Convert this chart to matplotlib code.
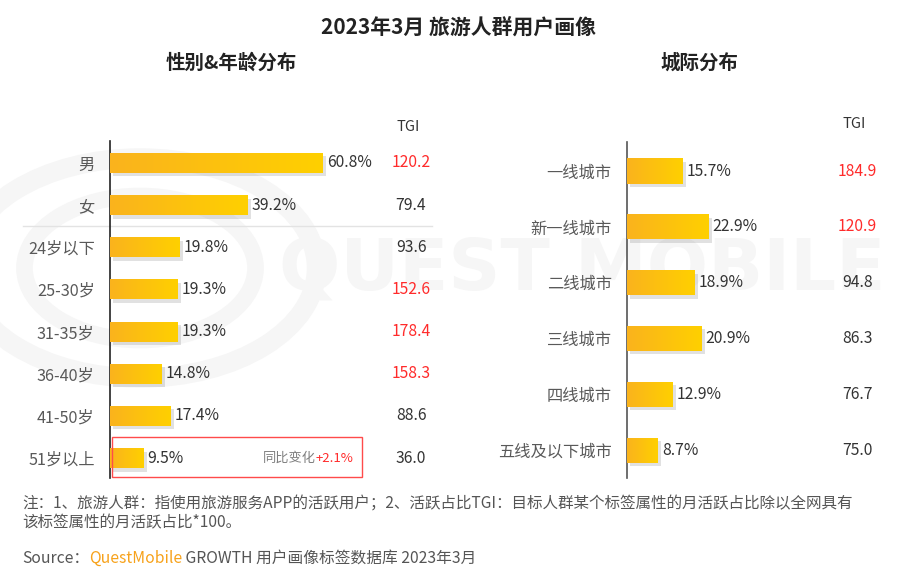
import numpy as np
import matplotlib
matplotlib.use('Agg')
import matplotlib.pyplot as plt
import matplotlib.patheffects as pe
from matplotlib.colors import LinearSegmentedColormap
from matplotlib.patches import Rectangle, Circle

plt.rcParams['font.family'] = ['Noto Sans CJK SC', 'DejaVu Sans']
plt.rcParams['axes.unicode_minus'] = False

# ---- data ----
age_labels = ['男', '女', '24岁以下', '25-30岁', '31-35岁', '36-40岁', '41-50岁', '51岁以上']
age_share = [60.8, 39.2, 19.8, 19.3, 19.3, 14.8, 17.4, 9.5]
age_tgi = [120.2, 79.4, 93.6, 152.6, 178.4, 158.3, 88.6, 36.0]
n_gender = 2

city_labels = ['一线城市', '新一线城市', '二线城市', '三线城市', '四线城市', '五线及以下城市']
city_share = [15.7, 22.9, 18.9, 20.9, 12.9, 8.7]
city_tgi = [184.9, 120.9, 94.8, 86.3, 76.7, 75.0]

yoy_change = '+2.1%'
TGI_RED_LIMIT = 100

COLOR_TEXT = '#333333'
COLOR_LABEL = '#595959'
COLOR_RED = '#FF2B2B'
COLOR_ORANGE = '#F7A21B'
BAR_CMAP = LinearSegmentedColormap.from_list('bar', ['#FAB31D', '#FFD000'])

W, H = 913, 569
fig = plt.figure(figsize=(W / 100, H / 100), dpi=100)


def px_axes(x0, y0, x1, y1):
    """Axes from pixel box (top-left origin)."""
    return fig.add_axes([x0 / W, 1 - y1 / H, (x1 - x0) / W, (y1 - y0) / H])


def draw_bars(ax, labels, values, tgi, height, xmax, ylim, tgi_x, spine_color):
    y = np.arange(len(labels))
    bars = ax.barh(y, values, height=height, color='#F8B21E', zorder=2,
                   path_effects=[pe.SimplePatchShadow(offset=(2.5, -2.5), alpha=0.22,
                                                      shadow_rgbFace='#777777'),
                                 pe.Normal()])
    grad = np.linspace(0, 1, 256).reshape(1, -1)
    for rect in bars:
        x0, y0 = rect.get_x(), rect.get_y()
        w, h = rect.get_width(), rect.get_height()
        im = ax.imshow(grad, cmap=BAR_CMAP, aspect='auto',
                       extent=(x0, x0 + w, y0 + h, y0), zorder=3)
        im.set_clip_path(rect)
        ax.annotate(f'{w:.1f}%', xy=(x0 + w, y0 + h / 2), xytext=(3, 0),
                    textcoords='offset points', ha='left', va='center',
                    fontsize=11.3, color=COLOR_TEXT, zorder=4)
    for yi, t in zip(y, tgi):
        ax.text(tgi_x, yi, f'{t:.1f}', ha='center', va='center', fontsize=11.3,
                color=COLOR_RED if t > TGI_RED_LIMIT else COLOR_TEXT)
    ax.text(tgi_x - 0.8, ylim[1] - 0.33, 'TGI', ha='center', va='center',
            fontsize=10.5, color=COLOR_TEXT)
    ax.set_yticks(y)
    ax.set_yticklabels(labels, fontsize=11.7, color=COLOR_LABEL)
    ax.tick_params(axis='y', length=0, pad=11)
    ax.set_xticks([])
    ax.set_xlim(0, xmax)
    ax.set_ylim(*ylim)
    for s in ['top', 'right', 'bottom']:
        ax.spines[s].set_visible(False)
    ax.spines['left'].set_color(spine_color)
    ax.spines['left'].set_linewidth(1.2)
    ax.set_facecolor('none')
    return bars


# ---- watermark ----
fig.text(582 / W, 1 - 270 / H, 'QUEST MOBILE', fontsize=52, fontweight='bold',
         color='#F6F6F6', ha='center', va='center', family='DejaVu Sans', zorder=-2)
for r, lw in [(110, 14), (72, 12)]:
    fig.patches.append(Circle((140 / W, 1 - 268 / H), r / H, transform=fig.transFigure,
                              fill=False, ec='#F6F6F6', lw=lw, zorder=-2))

# ---- left panel ----
axl = px_axes(110, 141, 460, 478)
draw_bars(axl, age_labels, age_share, age_tgi, 0.475, 100, (7.47, -0.52), 86, '#222222')
sep = n_gender - 0.5
axl.plot([-25, 92], [sep, sep], color='#E3E3E3', lw=1, clip_on=False, zorder=1)
last = len(age_labels) - 1
axl.add_patch(Rectangle((0.6, last - 0.5), 71.4, 0.95, fill=False, ec='#FF4B4B',
                        lw=1, clip_on=False, zorder=5))
t_red = axl.text(69.5, last, yoy_change, ha='right', va='center', fontsize=9.5,
                 color=COLOR_RED)
axl.annotate('同比变化', xy=(0, 0.5), xycoords=t_red, ha='right', va='center',
             fontsize=9.5, color='#7F7F7F')

# ---- right panel ----
axr = px_axes(627, 142, 905, 478)
draw_bars(axr, city_labels, city_share, city_tgi, 0.45, 78.3, (5.5, -0.52), 64.8, '#555555')

# ---- titles ----
fig.text(458 / W, 1 - 27 / H, '2023年3月 旅游人群用户画像', ha='center', va='center',
         fontsize=15, fontweight='bold', color='#222222')
fig.text(231 / W, 1 - 63 / H, '性别&年龄分布', ha='center', va='center',
         fontsize=14, fontweight='bold', color='#222222')
fig.text(699 / W, 1 - 63 / H, '城际分布', ha='center', va='center',
         fontsize=14, fontweight='bold', color='#222222')

# ---- notes & source ----
fig.text(22 / W, 1 - 504 / H,
         '注：1、旅游人群：指使用旅游服务APP的活跃用户；2、活跃占比TGI：目标人群某个标签属性的月活跃占比除以全网具有',
         ha='left', va='center', fontsize=11.2, color='#555555')
fig.text(22 / W, 1 - 523 / H, '该标签属性的月活跃占比*100。',
         ha='left', va='center', fontsize=11.2, color='#555555')
s1 = fig.text(22 / W, 1 - 558 / H, 'Source：', ha='left', va='center',
              fontsize=11.3, color='#555555')
s2 = plt.annotate('QuestMobile', xy=(1, 0.5), xycoords=s1, ha='left', va='center',
                  fontsize=11.3, color=COLOR_ORANGE, annotation_clip=False)
plt.annotate(' GROWTH 用户画像标签数据库 2023年3月', xy=(1, 0.5), xycoords=s2,
             ha='left', va='center', fontsize=11.3, color='#555555', annotation_clip=False)

fig.savefig('out.png', dpi=100)
